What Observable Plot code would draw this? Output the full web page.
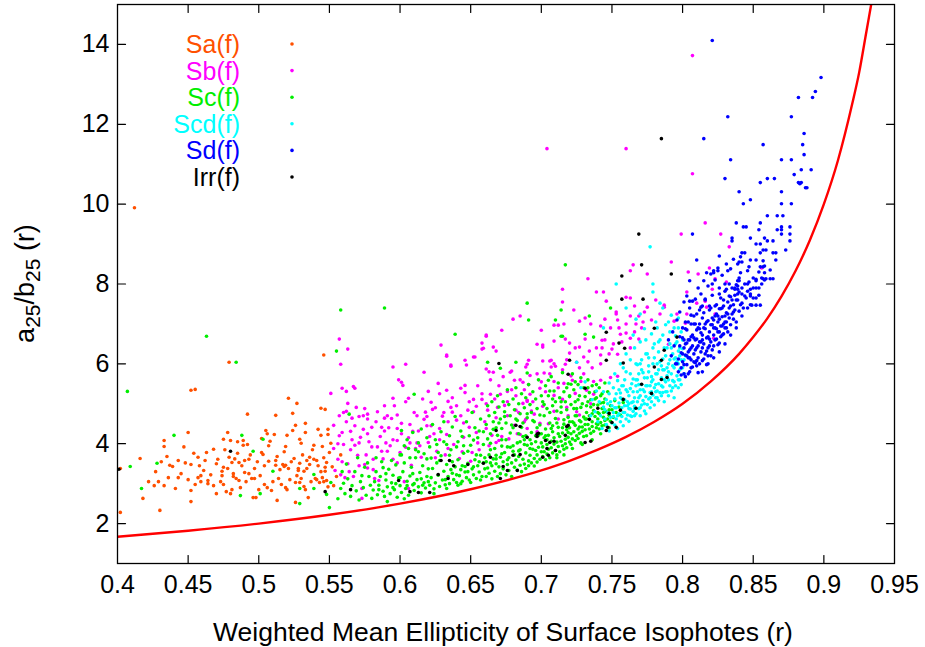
<!DOCTYPE html>
<html>
<head>
<meta charset="utf-8">
<script src="https://cdn.jsdelivr.net/npm/d3@7"></script>
<script src="https://cdn.jsdelivr.net/npm/@observablehq/plot@0.6"></script>
<style>
  html, body { margin: 0; padding: 0; background: #fff; }
  svg { display: block; }
</style>
</head>
<body>
<div id="chart"></div>
<script>
// ---- Data (x in thousandths, y in hundredths, flattened pairs) ----
const seriesNames = ["Sa(f)", "Sb(f)", "Sc(f)", "Scd(f)", "Sd(f)", "Irr(f)"];
const seriesColors = ["#ff5000", "#ff00ff", "#00ee00", "#00ffff", "#0000ff", "#000000"];

const saData = [412,991, 479,604, 546,622, 402,228, 402,338, 430,233, 452,534, 455,536,
492,474, 521,514, 527,501, 512,471, 524,476, 544,489, 547,486, 533,451, 526,446,
433,408, 433,393, 450,428, 478,428, 475,411, 480,408, 505,433, 506,425, 511,423, 502,413, 508,406, 520,421, 524,433, 533,428, 542,436, 549,436, 544,421, 549,423, 489,408, 489,396, 492,398, 529,411, 530,401, 539,396, 545,393, 519,393,
416,363, 435,368, 443,358, 454,376, 457,366, 468,386, 471,361, 462,358, 452,348, 439,343, 437,346, 479,366, 481,353, 485,376, 486,353, 490,358, 493,361, 502,378, 503,373, 507,356, 512,358, 512,346, 517,348, 518,343, 519,346, 521,338, 525,363, 529,351, 534,358, 536,366, 539,361, 541,358, 548,353, 547,341, 547,331, 536,348, 532,331, 528,333,
422,305, 426,295, 429,305, 433,295, 436,315, 443,315, 450,310, 459,320, 459,305, 464,308, 464,300, 468,295, 461,333, 474,331, 474,320, 475,341, 482,318, 482,325, 484,313, 486,308, 490,328, 493,325, 495,313, 497,313, 475,298, 481,285, 477,280, 480,275, 452,283, 452,255, 418,263, 500,285, 504,298, 506,290, 509,283, 496,265, 498,265, 514,313, 519,290, 520,285, 526,303, 529,303, 532,293, 530,313, 533,285, 535,265, 540,313, 541,310, 543,303, 545,315, 546,305, 548,308, 528,338, 513,258, 526,253, 457,315, 552,342, 555,318, 553,295, 558,372, 551,401,
445,325, 448,352, 455,298, 458,345, 463,378, 466,322, 470,350, 473,305, 476,385, 478,338, 483,362, 487,290, 488,345, 491,305, 494,372, 497,338, 499,355, 501,320, 504,345, 507,395, 510,305, 513,368, 515,335, 516,298, 518,380, 522,310, 523,355, 527,320, 531,372, 534,338, 537,305, 538,385, 542,345, 544,330, 546,365, 549,292, 550,378, 427,330, 431,355, 441,288, 447,392, 470,275, 485,405];

const sbData = [557,662, 661,669, 629,647, 558,599, 595,592, 604,599, 617,579, 633,619, 646,609, 652,617, 658,652, 659,639, 666,642, 636,597, 647,597, 661,587, 663,580, 666,579, 678,579, 689,592,
551,526, 562,531, 568,539, 601,554, 602,546, 595,514, 606,514, 620,531, 627,551, 633,534, 643,539, 646,546, 652,511, 658,511, 664,524, 671,524, 676,531, 681,559, 687,554,
563,501, 569,491, 575,488, 562,481, 560,478, 577,474, 571,468, 566,464, 577,462, 589,464, 591,470, 594,463, 580,441, 587,441, 565,431, 574,436, 589,432, 598,438, 601,451, 609,431, 617,461, 618,479, 623,486, 622,504, 634,506, 636,491, 637,479, 648,484, 654,494, 662,484, 669,491, 674,496, 682,484, 687,501, 690,509, 684,478, 693,482, 630,469, 640,459, 628,438, 633,423, 624,425, 645,416, 649,441, 654,428, 661,438, 665,421, 672,418, 668,403, 681,446, 688,455,
553,388, 556,361, 554,333, 559,355, 560,398, 568,396, 570,371, 575,348, 577,339, 581,361, 587,381, 591,381, 595,361, 598,352, 604,391, 611,388, 615,366, 608,346, 620,403, 626,381, 634,388, 642,363, 651,378, 656,385, 561,315, 564,330, 573,288, 573,263, 558,322, 582,313, 585,308, 606,288, 603,305,
700,684, 709,697, 716,700, 727,707, 735,700, 745,712, 753,730, 749,690, 743,659, 731,662, 720,652, 709,657, 701,647, 690,599, 701,607, 707,609, 710,594, 725,604, 730,617, 734,632, 720,627, 742,622, 750,637, 756,674, 760,677, 763,664, 769,662, 771,690, 767,700, 754,624, 692,571, 702,577, 709,556, 716,551, 722,559, 728,556, 737,556, 742,559, 749,566, 754,569, 692,524, 699,539, 709,521, 715,511, 724,526, 732,534, 737,524, 690,506, 701,494, 709,481, 718,491, 725,480, 695,474, 689,461, 699,451, 685,423, 743,640,
563,637, 559,539, 567,543, 599,560, 633,622, 636,594, 653,617, 658,637, 661,672, 668,632, 672,684, 679,582, 691,609, 697,649, 701,642, 706,607, 715,787, 715,755, 712,697, 717,662, 727,642, 717,599, 707,592,
816,953, 799,925, 827,925, 833,893, 792,855, 804,830, 765,848, 763,833, 775,825, 733,813, 739,780, 744,780, 746,757, 760,767, 763,765, 723,735, 753,725, 766,745, 773,730, 787,747, 796,725, 731,715, 742,695, 763,720, 704,1139, 760,1139, 807,1372, 807,1076, 819,840, 811,825, 823,813, 821,787, 810,752, 816,757, 823,725, 803,725, 802,702, 794,707, 787,742, 790,649, 856,840, 822,664, 831,805, 817,742, 803,780, 685,720, 680,712, 755,690,
625,365, 632,372, 638,398, 644,380, 650,356, 655,402, 663,395, 670,408, 677,412, 683,425, 690,438, 697,430, 705,450, 712,462, 719,470, 727,472, 735,500, 660,455, 668,465, 676,470, 645,452, 612,402, 606,415, 598,408, 590,402, 584,392, 578,405, 572,416, 566,410, 557,420, 553,446, 557,470, 584,480, 596,495, 612,470, 619,445,
556,400, 559,428, 562,455, 565,385, 568,445, 571,402, 574,470, 577,425, 580,392, 583,455, 586,418, 589,495, 592,440, 595,410, 598,472, 601,425, 604,505, 607,448, 610,478, 613,432, 616,512, 619,468, 622,445, 625,490, 628,525, 631,478, 634,455, 637,515, 640,495, 643,470, 646,528, 649,505, 652,480, 655,545, 658,525, 661,500, 664,560, 667,512, 670,545, 673,568, 676,505, 679,535, 682,520, 685,560, 688,535, 691,548, 694,505, 697,575, 700,555, 703,530, 706,575, 709,600, 712,540, 715,585, 718,610, 721,570, 724,640, 727,590, 730,575, 733,605, 736,590, 739,640, 742,600, 745,660, 748,625, 751,650, 754,710, 757,655, 760,700, 763,640, 766,680, 769,720, 772,705, 775,742, 778,710, 781,760, 784,725, 563,350, 567,318, 571,345, 576,372, 581,335, 588,362, 593,395, 600,378, 607,402, 614,395, 621,418, 628,410];

const scData = [407,531, 463,669, 484,604, 555,632, 558,735, 589,740, 639,674, 690,752, 691,710, 714,735, 710,710, 734,720, 749,740, 731,674, 714,669, 737,667, 717,848, 440,421, 488,421, 496,381, 503,411, 428,351, 409,343, 417,288, 487,270, 501,275, 510,331, 529,250, 539,323, 539,288, 550,240, 548,273, 551,303, 529,288,
662,604, 671,589, 682,604, 690,577, 705,559, 721,549, 715,669, 610,524, 601,433, 564,474,
556,262, 558,288, 560,301, 561,275, 563,312, 565,268, 566,295, 568,330, 569,282, 571,259, 572,305, 574,290, 575,341, 576,271, 578,318, 579,296, 580,263, 562,349, 570,365, 577,352, 559,330, 573,320,
581,284, 582,305, 583,330, 584,272, 585,296, 586,318, 587,355, 588,281, 589,268, 590,309, 591,292, 592,336, 593,275, 594,302, 595,321, 596,285, 597,347, 598,266, 599,314, 600,295, 601,278, 602,330, 603,352, 604,288, 605,306, 606,271, 607,319, 608,341, 609,297, 610,283, 611,365, 612,310, 613,292, 614,328, 615,277, 616,345, 617,302, 618,289, 619,318, 620,337, 583,365, 588,340, 594,358, 600,372, 606,388, 613,380, 619,362, 591,255, 603,262, 597,300, 609,325, 616,296,
621,296, 622,315, 623,338, 624,287, 625,302, 626,352, 627,321, 628,293, 629,370, 630,309, 631,331, 632,297, 633,348, 634,318, 635,300, 636,385, 637,326, 638,310, 639,342, 640,303, 641,360, 642,320, 643,335, 644,306, 645,376, 646,329, 647,315, 648,351, 649,309, 650,396, 651,337, 652,322, 653,360, 654,313, 655,345, 656,329, 657,371, 658,318, 659,352, 660,337, 622,364, 626,398, 631,405, 635,371, 640,392, 644,418, 648,381, 652,409, 656,432, 659,398, 624,275, 633,288, 641,296, 650,303, 657,309, 628,358, 637,355, 646,343, 654,372, 643,300,
661,318, 661,355, 662,339, 663,372, 663,326, 664,401, 665,345, 665,312, 666,362, 667,331, 667,388, 668,350, 669,318, 669,421, 670,342, 671,366, 671,325, 672,394, 673,355, 673,337, 674,378, 675,322, 675,410, 676,348, 677,365, 677,333, 678,391, 679,352, 679,318, 680,440, 681,341, 681,372, 682,359, 683,334, 683,402, 684,368, 685,346, 685,385, 686,330, 687,361, 687,418, 688,349, 689,377, 689,338, 690,396, 691,357, 691,345, 692,371, 693,428, 693,352, 694,386, 695,363, 695,344, 696,405, 697,372, 697,354, 698,391, 699,361, 699,447, 700,380, 662,412, 666,436, 670,452, 674,468, 678,427, 682,462, 686,441, 690,475, 694,458, 698,421, 664,385, 668,371, 672,410, 676,392, 680,381, 684,425, 688,398, 692,410, 696,383, 700,402,
701,368, 701,392, 702,415, 702,380, 703,360, 703,437, 704,398, 704,374, 705,421, 705,386, 706,365, 706,452, 707,406, 707,390, 708,377, 708,430, 709,399, 709,415, 710,383, 710,463, 711,404, 711,372, 712,441, 712,393, 713,418, 713,380, 714,406, 714,478, 715,395, 715,427, 716,386, 716,449, 717,411, 717,400, 718,435, 718,390, 719,466, 719,416, 720,404, 720,440, 721,425, 721,398, 722,455, 722,412, 723,488, 723,430, 724,408, 724,446, 725,420, 725,470, 726,437, 726,413, 727,458, 727,426, 728,402, 728,491, 729,442, 729,431, 730,418, 730,467, 702,498, 708,512, 714,505, 720,518, 726,510, 706,532, 718,540, 724,555, 711,365, 716,372, 722,388, 729,398,
731,435, 731,462, 732,420, 732,478, 733,448, 733,505, 734,437, 734,470, 735,426, 735,492, 736,455, 736,443, 737,483, 737,431, 738,468, 738,512, 739,450, 739,440, 740,497, 740,462, 741,437, 741,475, 742,520, 742,453, 743,445, 743,488, 744,466, 744,503, 745,458, 745,447, 746,480, 747,462, 747,530, 748,471, 749,456, 749,495, 750,485, 751,466, 752,508, 753,478, 755,492, 756,472, 758,503, 733,540, 739,548, 745,552, 736,410, 742,425, 748,440,
601,372, 603,395, 605,410, 607,365, 609,428, 611,385, 613,402, 615,437, 617,375, 619,415, 621,392, 623,448, 625,410, 627,378, 629,430, 631,455, 633,398, 635,420, 637,442, 639,468, 641,405, 643,432, 645,395, 647,455, 649,420, 651,478, 653,440, 655,415, 657,462, 659,430,
661,448, 662,495, 663,470, 664,425, 665,505, 666,455, 667,478, 668,440, 669,520, 670,492, 671,462, 672,438, 673,505, 674,480, 675,452, 676,535, 677,498, 678,470, 679,447, 680,512, 681,485, 682,540, 683,458, 684,500, 685,475, 686,525, 687,452, 688,490, 689,515, 690,465, 691,548, 692,498, 693,478, 694,530, 695,455, 696,512, 697,488, 698,560, 699,472, 700,520,
701,505, 702,470, 703,545, 704,488, 705,520, 706,478, 707,568, 708,495, 709,532, 710,505, 711,482, 712,552, 713,515, 714,492, 715,578, 716,530, 717,505, 718,485, 719,550, 720,520, 721,498, 722,575, 723,535, 724,505, 725,488, 726,548, 727,520, 728,565, 729,500, 730,540, 731,518, 732,495, 733,560, 734,528, 735,510, 736,545, 737,498, 738,530, 739,515, 740,478, 741,540, 742,502, 743,525, 744,488, 745,512,
632,310, 636,335, 640,322, 644,345, 648,330, 652,342, 656,355, 660,365, 664,352, 668,362, 672,375, 676,360, 680,395, 684,382, 688,410, 692,388, 696,420, 700,425, 704,410, 708,445, 712,425, 716,460, 720,455, 724,470, 728,455, 732,462, 736,475, 740,448, 744,478, 748,485, 685,405, 689,420, 693,400, 697,440, 703,420, 707,438, 711,452, 715,440, 719,428, 723,452, 727,442, 731,448,
585,285, 590,325, 595,290, 600,315, 605,295, 610,300, 615,312, 620,305];

const scdData = [777,893, 753,800, 779,800, 779,780, 784,752, 725,604, 760,740, 770,725, 786,740, 792,722, 767,712, 744,690, 788,698, 797,715, 781,705, 773,688, 765,672, 797,690,
740,455, 742,470, 743,438, 744,492, 745,462, 746,510, 746,448, 747,478, 748,432, 748,525, 749,466, 750,495, 750,452, 751,540, 751,478, 752,447, 752,512, 753,462, 753,490, 754,438, 754,558, 755,475, 755,502, 756,455, 756,527, 757,468, 757,490, 758,445, 758,545, 759,478, 759,510, 760,462, 760,580, 761,495, 761,472, 762,520, 762,456, 763,538, 763,487, 764,503, 764,468, 765,562, 765,481, 766,515, 766,494, 767,475, 767,600, 768,530, 768,505, 769,488, 769,548, 770,470, 770,520, 771,585, 771,497, 772,535, 772,508, 773,482, 773,565, 774,518, 774,625, 775,498, 775,545, 776,512, 776,580, 777,490, 777,528, 778,555, 778,505, 779,640, 779,522, 780,540, 780,497, 781,575, 781,515, 782,532, 782,600, 783,550, 783,508, 784,528, 784,660, 785,565, 785,520, 786,542, 786,612, 787,505, 787,585, 788,555, 788,530, 789,640, 789,570, 790,520, 790,600, 791,545, 791,680, 792,575, 792,532, 793,625, 793,558, 794,590, 794,515, 795,545, 795,650, 796,570, 796,605, 797,540, 797,632, 798,585, 798,560, 799,610, 799,548, 800,590, 800,638, 801,575, 802,620,
752,575, 756,600, 760,625, 763,610, 766,640, 770,655, 774,660, 778,675, 782,690, 786,672, 790,705, 794,690, 758,590, 768,598, 776,615, 783,630, 748,552, 744,530, 741,505, 738,480, 736,510, 739,532, 735,470, 731,555, 728,540,
757,512, 759,495, 761,530, 763,470, 765,505, 767,545, 769,515, 771,548, 773,530, 775,565, 777,545, 779,560, 781,548, 783,585, 785,595, 787,560, 789,590, 791,610, 793,595, 795,615, 797,600, 762,488, 766,470, 770,490, 774,475, 778,530, 782,515, 786,528, 790,560, 794,555, 798,620,
752,490, 754,470, 756,515, 758,478, 760,535, 762,500, 764,550, 766,488, 768,560, 770,535, 772,578, 774,545, 776,595, 778,568, 780,615, 782,575, 784,605, 786,585, 788,620, 790,580, 792,640, 794,612, 796,655, 798,640, 800,660, 755,535, 759,560, 763,575, 767,560, 771,610, 775,625, 779,600, 783,655, 787,640, 791,650, 795,670, 799,680, 749,505, 753,525, 757,545, 761,505, 765,530, 769,575, 773,500, 777,515, 781,530, 785,545, 789,530, 793,540, 797,560, 801,610, 745,485, 747,500, 751,468, 770,600, 780,650];

const sdData = [821,1410, 898,1317, 894,1282, 882,1267, 892,1267, 832,1219, 877,1219, 815,1164, 886,1177, 857,1149, 885,1149, 886,1124, 834,1111, 870,1111, 877,1111, 884,1086, 891,1086, 830,1064, 860,1064, 865,1064, 879,1074, 855,1054, 882,1054, 884,1054, 888,1041, 840,1031, 870,1031, 843,1001, 848,1011, 870,1001, 877,1001, 860,971, 867,971, 871,971, 838,953, 843,943, 845,943, 855,953, 870,943, 876,943, 807,925, 854,936, 867,936, 870,936, 876,925, 870,925, 835,915, 848,915, 858,915, 860,908, 864,908, 876,908, 852,900, 855,900, 835,908, 873,885, 864,878, 866,878, 857,885, 859,885, 855,878, 842,878, 844,878, 826,870, 810,860, 848,860, 852,860, 857,858, 840,855, 842,855, 855,843, 857,843, 847,843, 822,833, 825,833, 832,833, 841,828, 846,833, 857,813, 859,813, 862,813, 864,813, 817,828, 822,828, 805,808, 840,808, 852,808, 821,800, 830,800, 833,800, 839,795, 842,790, 826,790, 831,787, 837,787, 839,787, 848,787, 826,775, 839,775, 848,775, 852,765, 805,757, 807,757, 816,762, 819,745, 814,745, 849,747, 852,747, 855,747, 883,1051, 887,1041,
797,612, 798,645, 799,628, 799,590, 800,665, 800,605, 801,640, 801,575, 802,622, 802,688, 803,598, 803,652, 804,615, 804,705, 805,580, 805,635, 806,668, 806,610, 807,645, 807,592, 808,625, 808,720, 809,660, 809,603, 810,640, 810,685, 811,615, 811,578, 812,655, 812,700, 813,630, 813,742, 814,672, 814,608, 815,650, 815,690, 816,625, 816,760, 817,665, 817,598, 818,708, 818,640, 819,680, 819,735, 820,655, 820,620, 821,698, 821,772, 822,672, 822,645, 823,720, 823,690, 824,662, 824,748, 825,705, 825,680, 826,738, 826,652, 827,695, 827,765, 828,718, 828,672, 829,745, 829,700, 830,690, 830,782, 831,728, 831,705, 832,755, 832,680, 833,740, 833,715, 834,768, 834,698, 835,725, 835,790, 836,748, 836,712, 837,772, 837,735, 838,705, 838,798, 839,760, 840,732, 840,815, 841,748, 842,775, 843,740, 844,800, 845,765, 846,782, 847,805, 848,748, 850,790, 852,812, 854,772, 856,800, 858,828,
801,598, 803,620, 805,660, 806,590, 808,605, 809,635, 810,662, 811,645, 812,600, 813,678, 814,640, 815,612, 816,688, 817,632, 818,668, 819,645, 820,698, 821,635, 822,710, 823,660, 824,688, 825,648, 826,712, 827,668, 828,695, 829,675, 830,720, 798,668, 800,690, 802,705, 804,660, 806,722, 808,700, 810,725, 812,735, 814,715, 796,600, 797,580, 799,572, 802,568, 804,575,
792,620, 794,645, 795,600, 790,660, 793,680, 796,710, 798,730, 801,755, 803,770, 805,740, 809,762, 811,790, 813,775, 815,808, 818,795, 820,825, 823,810, 825,840, 828,822, 831,850, 834,838, 836,862, 839,850, 841,868,
800,625, 802,650, 804,630, 806,700, 808,665, 810,608, 812,688, 814,660, 816,700, 818,620, 820,740, 822,690, 824,725, 826,680, 828,740, 830,705, 832,725, 834,745, 836,730, 838,760, 840,780, 842,752, 844,770, 846,800, 848,770, 850,815, 852,790, 854,830, 856,815, 858,845, 801,660, 803,685, 805,615, 807,672, 809,700, 811,690, 813,655, 815,728, 817,705, 819,662, 821,715, 823,745, 825,720, 827,738, 829,760, 831,690, 833,770, 835,760, 837,790, 839,808, 806,640, 810,595, 814,580, 818,600, 822,615, 826,630, 830,650, 834,672, 838,690, 842,720, 846,740, 850,765, 854,790, 858,810, 862,835, 866,860];

const irrData = [401,336, 480,381, 547,280, 565,285, 599,308, 607,280, 613,278, 621,278, 627,323, 629,358, 635,358, 634,313, 638,345, 648,348, 659,351, 664,366, 668,433, 670,601, 671,313, 673,343, 676,333, 680,371, 683,333, 685,373, 682,446, 685,443, 690,416, 697,418, 698,426, 703,408, 706,403, 710,383, 701,366, 705,371, 717,421, 719,446, 720,609, 719,574, 780,689, 787,634, 746,679, 755,652, 759,639, 746,609, 758,602, 780,592, 785,609, 785,561, 789,566, 771,549, 778,526, 758,511, 767,489, 756,484, 753,441, 750,453, 748,476, 740,489, 734,461, 747,441, 746,433, 735,406, 731,403, 731,539, 718,443, 709,406, 704,388, 697,424, 769,925, 771,848, 792,825, 757,820, 757,762, 772,762, 796,667, 785,1164];

// Red boundary curve
const curveX = [0.40, 0.45, 0.50, 0.55, 0.60, 0.65, 0.70, 0.72, 0.74, 0.76, 0.78, 0.80, 0.82, 0.84, 0.85, 0.86, 0.87, 0.88, 0.89, 0.90, 0.91, 0.92, 0.925, 0.93, 0.9335];
const curveY = [1.67, 1.82, 2.00, 2.22, 2.50, 2.86, 3.33, 3.57, 3.85, 4.17, 4.55, 5.00, 5.56, 6.25, 6.67, 7.14, 7.69, 8.33, 9.09, 10.0, 11.1, 12.5, 13.3, 14.3, 15.0];

const xTicks = [0.4, 0.45, 0.5, 0.55, 0.6, 0.65, 0.7, 0.75, 0.8, 0.85, 0.9, 0.95];
const yTicks = [2, 4, 6, 8, 10, 12, 14];
const xTitle = "Weighted Mean Ellipticity of Surface Isophotes (r)";

// ---- Build tables ----
const rawSeries = [saData, sbData, scData, scdData, sdData, irrData];
const series = rawSeries.map((arr, k) => {
  const out = [];
  for (let i = 0; i < arr.length; i += 2) out.push({x: arr[i] / 1000, y: arr[i + 1] / 100, s: seriesNames[k]});
  return out;
});
const curve = curveX.map((x, i) => ({x, y: curveY[i]}));

const W = 925, H = 647;
const mL = 117, mR = 31, mT = 4, mB = 84;
const FONT = "'Liberation Sans', Arial, Helvetica, sans-serif";
const FS = 25;
const DOT_R = 1.8;

const tickShape = {draw(ctx, l) { ctx.moveTo(0, 0); ctx.lineTo(0, -l); }};

const chart = Plot.plot({
  width: W, height: H,
  marginLeft: mL, marginRight: mR, marginTop: mT, marginBottom: mB,
  style: {fontFamily: FONT, fontSize: FS + "px", background: "#fff", color: "#000"},
  x: {domain: [0.4, 0.95]},
  y: {domain: [1, 15]},
  marks: [
    ...series.map((d, k) => Plot.dot(d, {x: "x", y: "y", r: DOT_R, fill: seriesColors[k], stroke: null})),
    Plot.line(curve, {x: "x", y: "y", stroke: "#ff0000", strokeWidth: 2.4, curve: "monotone-x", clip: true}),
    Plot.frame({stroke: "#000", strokeWidth: 1.3}),
    Plot.vector(xTicks.slice(1, -1), {x: d => d, frameAnchor: "bottom", length: 8, rotate: 0, anchor: "start", shape: tickShape, stroke: "#000", strokeWidth: 1.2}),
    Plot.vector(xTicks.slice(1, -1), {x: d => d, frameAnchor: "top", length: 8, rotate: 180, anchor: "start", shape: tickShape, stroke: "#000", strokeWidth: 1.2}),
    Plot.vector(yTicks, {y: d => d, frameAnchor: "left", length: 8, rotate: 90, anchor: "start", shape: tickShape, stroke: "#000", strokeWidth: 1.2}),
    Plot.vector(yTicks, {y: d => d, frameAnchor: "right", length: 8, rotate: -90, anchor: "start", shape: tickShape, stroke: "#000", strokeWidth: 1.2}),
    Plot.axisX(xTicks, {tickSize: 0, tickPadding: 12, tickFormat: d => String(d), label: null, fontSize: FS, fill: "#000"}),
    Plot.axisY(yTicks, {tickSize: 0, tickPadding: 8, tickFormat: d => String(d), label: null, fontSize: FS, fill: "#000"})
  ]
});

document.getElementById("chart").appendChild(chart);

// ---- Titles and key ----
const svg = d3.select(chart);
svg.append("text")
  .attr("x", 503).attr("y", 632)
  .attr("text-anchor", "middle").attr("dominant-baseline", "central")
  .attr("font-family", FONT).attr("font-size", 26.5).attr("fill", "#000")
  .text(xTitle);

const yt = svg.append("text")
  .attr("transform", `translate(34,${(mT + H - mB) / 2}) rotate(-90)`)
  .attr("text-anchor", "middle")
  .attr("font-family", FONT).attr("font-size", 27).attr("fill", "#000");
yt.append("tspan").text("a");
yt.append("tspan").attr("dy", 6).attr("font-size", 21).text("25");
yt.append("tspan").attr("dy", -6).text("/b");
yt.append("tspan").attr("dy", 6).attr("font-size", 21).text("25");
yt.append("tspan").attr("dy", -6).text(" (r)");

const key = svg.append("g");
seriesNames.forEach((name, k) => {
  const cy = 44 + k * 26.6;
  key.append("text")
    .attr("x", 240).attr("y", cy)
    .attr("text-anchor", "end").attr("dominant-baseline", "central")
    .attr("font-family", FONT).attr("font-size", FS).attr("fill", seriesColors[k])
    .text(name);
  key.append("circle").attr("cx", 292).attr("cy", cy).attr("r", DOT_R).attr("fill", seriesColors[k]);
});
</script>
</body>
</html>
